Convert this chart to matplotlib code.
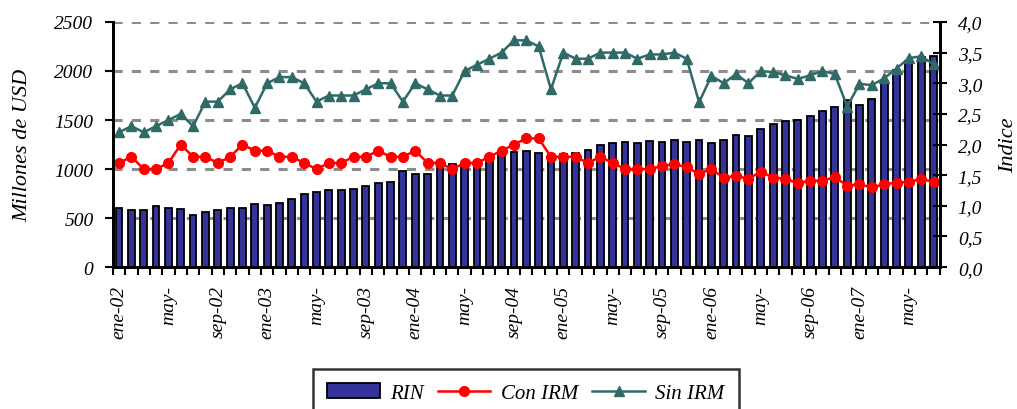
import numpy as np
import matplotlib
matplotlib.use("Agg")
import matplotlib.pyplot as plt
from matplotlib.ticker import FuncFormatter, MultipleLocator

plt.rcParams['font.family'] = ['Liberation Serif', 'DejaVu Serif']
plt.rcParams['font.style'] = 'italic'

# monthly data ene-02 .. jul-07
rin = [607, 579, 582, 623, 607, 596, 528, 562, 582, 600, 600, 640,
       630, 650, 698, 742, 765, 782, 785, 800, 826, 854, 871, 985,
       952, 952, 1013, 1050, 1040, 1050, 1080, 1140, 1178, 1188, 1165, 1135,
       1150, 1160, 1190, 1245, 1265, 1274, 1267, 1284, 1277, 1294, 1280, 1294,
       1267, 1298, 1352, 1341, 1409, 1460, 1494, 1504, 1545, 1596, 1633, 1700,
       1657, 1717, 1877, 2010, 2100, 2140, 2150]

con_irm = [1.7, 1.8, 1.6, 1.6, 1.7, 2.0, 1.8, 1.8, 1.7, 1.8, 2.0, 1.9,
           1.9, 1.8, 1.8, 1.7, 1.6, 1.7, 1.7, 1.8, 1.8, 1.9, 1.8, 1.8,
           1.9, 1.7, 1.7, 1.6, 1.7, 1.7, 1.8, 1.9, 2.0, 2.1, 2.1, 1.8,
           1.8, 1.8, 1.7, 1.8, 1.7, 1.6, 1.6, 1.6, 1.65, 1.68, 1.63, 1.52,
           1.6, 1.46, 1.49, 1.44, 1.56, 1.46, 1.44, 1.37, 1.41, 1.41, 1.47, 1.33,
           1.35, 1.3, 1.35, 1.38, 1.39, 1.44, 1.39]

sin_irm = [2.2, 2.3, 2.2, 2.3, 2.4, 2.5, 2.3, 2.7, 2.7, 2.9, 3.0, 2.6,
           3.0, 3.1, 3.1, 3.0, 2.7, 2.8, 2.8, 2.8, 2.9, 3.0, 3.0, 2.7,
           3.0, 2.9, 2.8, 2.8, 3.2, 3.3, 3.4, 3.5, 3.7, 3.7, 3.6, 2.9,
           3.5, 3.4, 3.4, 3.5, 3.5, 3.5, 3.4, 3.47, 3.47, 3.5, 3.4, 2.69,
           3.12, 3.0, 3.15, 3.0, 3.2, 3.18, 3.13, 3.07, 3.13, 3.2, 3.15, 2.62,
           2.99, 2.97, 3.08, 3.24, 3.41, 3.44, 3.31]

tick_labels = ["ene-02", "may-", "sep-02", "ene-03", "may-", "sep-03",
               "ene-04", "may-", "sep-04", "ene-05", "may-", "sep-05",
               "ene-06", "may-", "sep-06", "ene-07", "may-"]

x = np.arange(len(rin))

fig = plt.figure(figsize=(10.17, 4.10), dpi=100)
ax = fig.add_axes([0.111, 0.346, 0.813, 0.598])
ax2 = ax.twinx()

bars = ax.bar(x, rin, width=0.55, color="#333399", edgecolor="black",
              linewidth=1.3, label="RIN", zorder=2)

ax.set_xlim(-0.5, len(rin) - 0.5)
ax.set_ylim(0, 2500)
ax.yaxis.set_major_locator(MultipleLocator(500))
ax.set_axisbelow(True)
ax.grid(axis="y", color="#8c8c8c", linestyle=(0, (3, 3)), linewidth=2.2)

l1, = ax2.plot(x, con_irm, color="#ff0000", marker="o", markersize=7,
               linewidth=1.8, label="Con IRM")
l2, = ax2.plot(x, sin_irm, color="#2f6a66", marker="^", markersize=7.5,
               linewidth=1.8, label="Sin IRM")
ax2.set_ylim(0, 4)
ax2.yaxis.set_major_locator(MultipleLocator(0.5))
ax2.yaxis.set_major_formatter(FuncFormatter(lambda v, p: f"{v:.1f}".replace(".", ",")))

# x ticks: marks between months, labels every 4 months
ax.set_xticks(x[::4])
ax.set_xticklabels(tick_labels, rotation=90, fontsize=14)
ax.set_xticks(np.arange(-0.5, len(rin), 1), minor=True)
ax.tick_params(axis="x", which="major", length=0, pad=13)
ax.tick_params(axis="x", which="minor", length=6, width=1.5, direction="out")
ax.tick_params(axis="y", length=6, width=1.5, labelsize=14, direction="out", pad=8)
ax2.tick_params(axis="y", length=10, width=1.5, labelsize=14, direction="inout", pad=8)

for a in (ax, ax2):
    a.spines["top"].set_visible(False)
    a.spines["left"].set_linewidth(2)
    a.spines["right"].set_linewidth(2)
    a.spines["bottom"].set_linewidth(2)

ax.set_ylabel("Millones de USD", fontsize=16, labelpad=16)
ax2.set_ylabel("Indice", fontsize=16, labelpad=12)

leg = fig.legend(handles=[bars, l1, l2], loc="upper center",
                 bbox_to_anchor=(0.517, 0.098), ncol=3, fontsize=15,
                 frameon=True, fancybox=False, edgecolor="black",
                 handlelength=2.5, columnspacing=0.7, handletextpad=0.5,
                 borderpad=0.7, borderaxespad=0)
leg.get_frame().set_linewidth(1.8)

fig.savefig("out.png", dpi=100)
